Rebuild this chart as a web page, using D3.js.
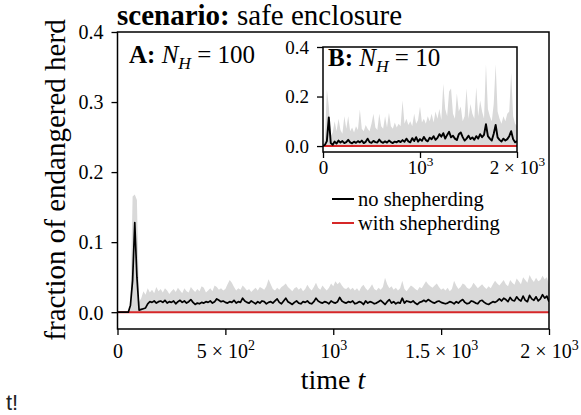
<!DOCTYPE html>
<html>
<head>
<meta charset="utf-8">
<script src="https://cdn.jsdelivr.net/npm/d3@7/dist/d3.min.js"></script>
<style>
  body { margin: 0; background: #fff; }
  svg { display: block; }
</style>
</head>
<body>
<script>
// ---- data ----
// panel A: N_H = 100, sampled every 10 time units from t = 0 to 2000
const stepA = 10;
const meanA = [
  0, 0, 0, 0, 0, 0, 0.010, 0.045, 0.128, 0.050,
  0.003, 0.004, 0.005, 0.006, 0.012, 0.015, 0.014, 0.016, 0.013, 0.015,
  0.016, 0.014, 0.017, 0.013, 0.015, 0.014, 0.016, 0.012, 0.015, 0.017,
  0.014, 0.016, 0.013, 0.015, 0.018, 0.014, 0.011, 0.013, 0.012, 0.014,
  0.013, 0.015, 0.014, 0.016, 0.013, 0.015, 0.019, 0.017, 0.015, 0.016,
  0.014, 0.013, 0.015, 0.014, 0.017, 0.013, 0.015, 0.014, 0.020, 0.016,
  0.014, 0.013, 0.016, 0.014, 0.012, 0.015, 0.013, 0.016, 0.015, 0.012,
  0.014, 0.015, 0.013, 0.016, 0.019, 0.014, 0.012, 0.016, 0.020, 0.015,
  0.013, 0.011, 0.014, 0.016, 0.013, 0.012, 0.015, 0.014, 0.016, 0.013,
  0.012, 0.015, 0.020, 0.016, 0.014, 0.013, 0.015, 0.014, 0.012, 0.016,
  0.014, 0.013, 0.015, 0.021, 0.016, 0.014, 0.013, 0.015, 0.014, 0.016,
  0.012, 0.013, 0.015, 0.014, 0.011, 0.016, 0.013, 0.015, 0.014, 0.012,
  0.013, 0.015, 0.017, 0.014, 0.011, 0.015, 0.018, 0.013, 0.015, 0.012,
  0.014, 0.013, 0.020, 0.013, 0.016, 0.015, 0.014, 0.016, 0.013, 0.011,
  0.014, 0.015, 0.017, 0.015, 0.018, 0.016, 0.014, 0.013, 0.015, 0.016,
  0.014, 0.013, 0.012, 0.013, 0.015, 0.014, 0.012, 0.015, 0.013, 0.016,
  0.018, 0.014, 0.012, 0.013, 0.016, 0.015, 0.013, 0.012, 0.016, 0.017,
  0.014, 0.012, 0.011, 0.013, 0.015, 0.014, 0.016, 0.019, 0.016, 0.020,
  0.018, 0.015, 0.021, 0.017, 0.016, 0.022, 0.018, 0.016, 0.023, 0.017,
  0.015, 0.024, 0.019, 0.017, 0.022, 0.016, 0.019, 0.025, 0.020, 0.023,
  0.015
];
const upperA = [
  0, 0, 0, 0, 0, 0, 0.010, 0.165, 0.168, 0.160,
  0.015, 0.020, 0.030, 0.025, 0.034, 0.028, 0.032, 0.027, 0.036, 0.030,
  0.033, 0.028, 0.034, 0.031, 0.026, 0.030, 0.033, 0.029, 0.035, 0.031,
  0.027, 0.034, 0.030, 0.028, 0.036, 0.032, 0.029, 0.033, 0.030, 0.037,
  0.035, 0.028, 0.031, 0.034, 0.030, 0.038, 0.036, 0.032, 0.034, 0.031,
  0.033, 0.040, 0.046, 0.042, 0.036, 0.031, 0.034, 0.032, 0.038, 0.035,
  0.031, 0.033, 0.029, 0.032, 0.035, 0.031, 0.036, 0.034, 0.032, 0.037,
  0.047, 0.040, 0.033, 0.031, 0.035, 0.032, 0.036, 0.038, 0.041, 0.036,
  0.033, 0.030, 0.034, 0.036, 0.032, 0.035, 0.030, 0.033, 0.039, 0.034,
  0.031, 0.036, 0.042, 0.035, 0.032, 0.038, 0.034, 0.031, 0.035, 0.041,
  0.037, 0.044, 0.040, 0.043, 0.038, 0.034, 0.033, 0.036, 0.032, 0.035,
  0.031, 0.034, 0.030, 0.036, 0.039, 0.034, 0.031, 0.035, 0.040, 0.033,
  0.031, 0.035, 0.032, 0.036, 0.049, 0.040, 0.034, 0.037, 0.032, 0.035,
  0.031, 0.034, 0.045, 0.033, 0.030, 0.034, 0.038, 0.036, 0.033, 0.031,
  0.036, 0.034, 0.039, 0.044, 0.040, 0.037, 0.035, 0.038, 0.041, 0.036,
  0.032, 0.034, 0.031, 0.035, 0.030, 0.033, 0.045, 0.038, 0.033, 0.036,
  0.041, 0.039, 0.035, 0.033, 0.036, 0.042, 0.038, 0.034, 0.037, 0.040,
  0.036, 0.033, 0.037, 0.034, 0.040, 0.045, 0.041, 0.038, 0.042, 0.046,
  0.040, 0.037, 0.046, 0.042, 0.039, 0.048, 0.044, 0.040, 0.050, 0.046,
  0.042, 0.053, 0.047, 0.043, 0.049, 0.044, 0.046, 0.052, 0.047, 0.050,
  0.040
];
// panel B: N_H = 10, sampled every 20 time units
const stepB = 20;
const meanB = [
  0, 0.005, 0.020, 0.116, 0.012, 0.005, 0.018, 0.010, 0.022, 0.014,
  0.020, 0.012, 0.016, 0.025, 0.015, 0.011, 0.018, 0.013, 0.020, 0.015,
  0.022, 0.012, 0.017, 0.030, 0.016, 0.013, 0.021, 0.016, 0.014, 0.026,
  0.017, 0.013, 0.019, 0.014, 0.022, 0.016, 0.012, 0.018, 0.015, 0.021,
  0.016, 0.024, 0.017, 0.030, 0.019, 0.015, 0.032, 0.020, 0.036, 0.018,
  0.028, 0.021, 0.037, 0.024, 0.019, 0.034, 0.028, 0.040, 0.025, 0.033,
  0.048, 0.038, 0.052, 0.030, 0.045, 0.058, 0.035, 0.042, 0.030, 0.024,
  0.048, 0.055, 0.036, 0.022, 0.030, 0.042, 0.028, 0.035, 0.025, 0.040,
  0.030, 0.048, 0.036, 0.045, 0.088, 0.040, 0.030, 0.022, 0.050, 0.085,
  0.035, 0.025, 0.018, 0.030, 0.022, 0.028, 0.040, 0.060, 0.028, 0.015,
  0.020
];
const upperB = [
  0, 0.030, 0.228, 0.160, 0.040, 0.055, 0.100, 0.060, 0.110, 0.065,
  0.050, 0.120, 0.070, 0.120, 0.060, 0.075, 0.055, 0.080, 0.065, 0.148,
  0.070, 0.060, 0.085, 0.070, 0.060, 0.090, 0.130, 0.075, 0.065, 0.130,
  0.080, 0.070, 0.120, 0.075, 0.135, 0.080, 0.070, 0.095, 0.075, 0.090,
  0.080, 0.184, 0.090, 0.110, 0.085, 0.100, 0.080, 0.130, 0.090, 0.105,
  0.160, 0.095, 0.110, 0.090, 0.120, 0.100, 0.130, 0.095, 0.140, 0.110,
  0.150, 0.105, 0.252, 0.150, 0.120, 0.220, 0.232, 0.130, 0.110, 0.212,
  0.140, 0.160, 0.100, 0.120, 0.232, 0.110, 0.170, 0.130, 0.110, 0.237,
  0.120, 0.184, 0.140, 0.110, 0.330, 0.150, 0.120, 0.100, 0.170, 0.330,
  0.140, 0.110, 0.090, 0.120, 0.100, 0.130, 0.140, 0.297, 0.120, 0.090,
  0.080
];
// with shepherding nobody is endangered
const shepherdLevel = 0;

const xTicksA = [0, 500, 1000, 1500, 2000];
const xTickBaseA = ['0', '5 \u00d7 10', '10', '1.5 \u00d7 10', '2 \u00d7 10'];
const xTickExpA = ['', '2', '3', '3', '3'];
const yTicksA = [0, 0.1, 0.2, 0.3, 0.4];
const xTicksB = [0, 1000, 2000];
const xTickBaseB = ['0', '10', '2 \u00d7 10'];
const xTickExpB = ['', '3', '3'];
const yTicksB = [0, 0.2, 0.4];
const yDomain = [-0.024, 0.4];
const legendLabels = ['no shepherding', 'with shepherding'];
const legendColors = ['#000000', '#d62728'];

// ---- drawing ----
const width = 581, height = 415;
const serif = '"Liberation Serif", serif';

const svg = d3.select('body').append('svg')
  .attr('width', width)
  .attr('height', height)
  .attr('font-family', serif);

function addTickText(sel, bases, exps, size) {
  sel.each(function (d, i) {
    const t = d3.select(this).text(null);
    t.append('tspan').text(bases[i]);
    if (exps[i]) {
      t.append('tspan').attr('dy', -size * 0.42).attr('font-size', size * 0.7).text(exps[i]);
    }
  });
}

function panel(opts) {
  const x = d3.scaleLinear().domain([0, 2000]).range([opts.left, opts.right]);
  const y = d3.scaleLinear().domain(yDomain).range([opts.bottom, opts.top]);
  const g = svg.append('g');
  const clipId = 'clip' + opts.name;

  g.append('rect')
    .attr('x', opts.left).attr('y', opts.top)
    .attr('width', opts.right - opts.left).attr('height', opts.bottom - opts.top)
    .attr('fill', '#fff');

  g.append('clipPath').attr('id', clipId).append('rect')
    .attr('x', opts.left).attr('y', opts.top)
    .attr('width', opts.right - opts.left).attr('height', opts.bottom - opts.top);

  const plot = g.append('g').attr('clip-path', `url(#${clipId})`);

  const area = d3.area()
    .x((d, i) => x(i * opts.step))
    .y0(y(0))
    .y1(d => y(d));
  plot.append('path').datum(opts.upper)
    .attr('d', area)
    .attr('fill', '#d9d9d9');

  const line = d3.line().x((d, i) => x(i * opts.step)).y(d => y(d));

  plot.append('path').datum(opts.mean.map(() => shepherdLevel))
    .attr('d', line)
    .attr('fill', 'none')
    .attr('stroke', legendColors[1])
    .attr('stroke-width', 2);

  plot.append('path').datum(opts.mean)
    .attr('d', line)
    .attr('fill', 'none')
    .attr('stroke', legendColors[0])
    .attr('stroke-width', opts.lw)
    .attr('stroke-linejoin', 'round');

  // axes
  const gx = g.append('g')
    .attr('transform', `translate(0,${opts.bottom})`)
    .call(d3.axisBottom(x).tickValues(opts.xTicks).tickSize(6).tickFormat(() => ''));
  gx.attr('font-family', serif);
  gx.select('.domain').remove();
  gx.selectAll('.tick line').attr('stroke', '#000').attr('stroke-width', 1.3);
  gx.selectAll('.tick text')
    .attr('y', opts.xLabelY).attr('dy', 0)
    .attr('fill', '#000')
    .attr('font-size', opts.tickSize)
    .call(addTickText, opts.xBase, opts.xExp, opts.tickSize);

  const gy = g.append('g')
    .attr('transform', `translate(${opts.left},0)`)
    .call(d3.axisLeft(y).tickValues(opts.yTicks).tickSize(6).tickPadding(8).tickFormat(d3.format('.1f')));
  gy.attr('font-family', serif);
  gy.select('.domain').remove();
  gy.selectAll('.tick line').attr('stroke', '#000').attr('stroke-width', 1.3);
  gy.selectAll('.tick text')
    .attr('fill', '#000')
    .attr('font-size', opts.tickSize)
    .attr('dy', '0.34em');

  // frame
  g.append('rect')
    .attr('x', opts.left).attr('y', opts.top)
    .attr('width', opts.right - opts.left).attr('height', opts.bottom - opts.top)
    .attr('fill', 'none')
    .attr('stroke', '#000')
    .attr('stroke-width', 1.5);

  // panel label
  const lab = g.append('text')
    .attr('x', opts.labelX).attr('y', opts.labelY)
    .attr('font-size', opts.labelSize);
  lab.append('tspan').attr('font-weight', 'bold').text(opts.name + ': ');
  lab.append('tspan').attr('font-style', 'italic').text('N');
  lab.append('tspan').attr('font-style', 'italic').attr('font-size', opts.labelSize * 0.7)
    .attr('dy', opts.labelSize * 0.22).text('H');
  lab.append('tspan').attr('dy', -opts.labelSize * 0.22).text(' = ' + opts.nh);

  return { x, y };
}

// main panel
panel({
  name: 'A', nh: 100, left: 117.5, right: 549, top: 32, bottom: 329,
  step: stepA, mean: meanA, upper: upperA, lw: 1.7,
  xTicks: xTicksA, xBase: xTickBaseA, xExp: xTickExpA, yTicks: yTicksA,
  tickSize: 20, xLabelY: 29, labelX: 129, labelY: 63, labelSize: 25
});

// inset panel
panel({
  name: 'B', nh: 10, left: 323, right: 517, top: 47, bottom: 152,
  step: stepB, mean: meanB, upper: upperB, lw: 1.9,
  xTicks: xTicksB, xBase: xTickBaseB, xExp: xTickExpB, yTicks: yTicksB,
  tickSize: 19, xLabelY: 22, labelX: 328, labelY: 66, labelSize: 25
});

// legend
const leg = svg.append('g');
legendLabels.forEach((lbl, i) => {
  const ly = 199 + i * 24;
  leg.append('line')
    .attr('x1', 332).attr('x2', 354).attr('y1', ly).attr('y2', ly)
    .attr('stroke', legendColors[i]).attr('stroke-width', 2);
  leg.append('text')
    .attr('x', 358).attr('y', ly + 6.5)
    .attr('font-size', 20.5)
    .text(lbl);
});

// title
const title = svg.append('text').attr('x', 117).attr('y', 25).attr('font-size', 29);
title.append('tspan').attr('font-weight', 'bold').text('scenario:');
title.append('tspan').text(' safe enclosure');

// axis titles
const xl = svg.append('text')
  .attr('x', 333).attr('y', 389)
  .attr('text-anchor', 'middle')
  .attr('font-size', 28);
xl.append('tspan').text('time ');
xl.append('tspan').attr('font-style', 'italic').text('t');

svg.append('text')
  .attr('transform', 'translate(65,180) rotate(-90)')
  .attr('text-anchor', 'middle')
  .attr('font-size', 29)
  .text('fraction of endangered herd');

// stray page text under the figure
svg.append('text')
  .attr('x', 6).attr('y', 410)
  .attr('font-family', '"Liberation Sans", Arial, sans-serif')
  .attr('font-size', 22)
  .attr('fill', '#222')
  .text('t!');
</script>
</body>
</html>
